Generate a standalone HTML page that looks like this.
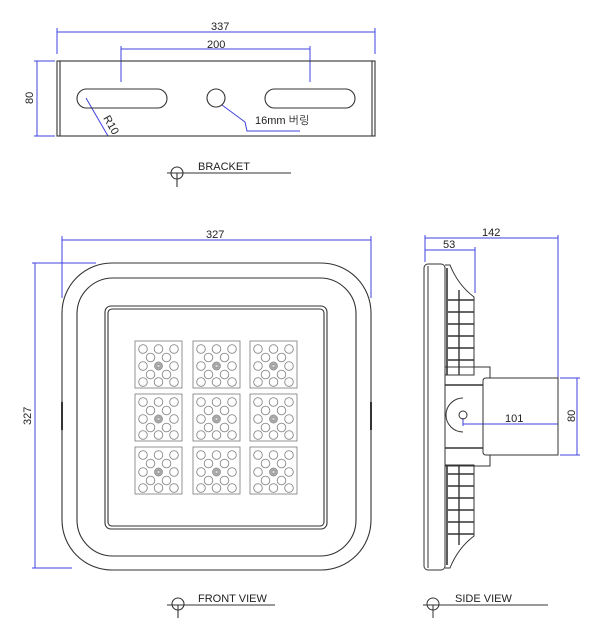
<!DOCTYPE html>
<html><head><meta charset="utf-8"><style>
html,body{margin:0;padding:0;background:#fff;}
svg{display:block;}
text{font-family:"Liberation Sans","NanumGothic",sans-serif;font-size:11px;fill:#222;}
</style></head><body>
<svg width="600" height="640" viewBox="0 0 600 640" xmlns="http://www.w3.org/2000/svg">
<defs>
<g id="mod" fill="none" stroke="#888" stroke-width="0.9">
<rect x="0" y="0" width="47" height="47"/>
<circle cx="8" cy="8" r="4.3"/><circle cx="23.5" cy="8" r="4.3"/><circle cx="39" cy="8" r="4.3"/>
<circle cx="15.5" cy="16.5" r="4.3"/><circle cx="31.5" cy="16.5" r="4.3"/>
<circle cx="8" cy="25" r="4.3"/><circle cx="39" cy="25" r="4.3"/>
<circle cx="23.5" cy="25" r="4" fill="#aaa" stroke="#999"/><circle cx="23.5" cy="25" r="1.5" fill="#ddd" stroke="#888" stroke-width="0.5"/>
<circle cx="15.5" cy="33.5" r="4.3"/><circle cx="31.5" cy="33.5" r="4.3"/>
<circle cx="8" cy="41" r="4.3"/><circle cx="23.5" cy="41" r="4.3"/><circle cx="39" cy="41" r="4.3"/>
</g>
</defs>
<!-- BRACKET -->
<g stroke="#4040e0" stroke-width="1" fill="none">
<line x1="57" y1="32" x2="375" y2="32"/><line x1="57" y1="28" x2="57" y2="54"/><line x1="375" y1="28" x2="375" y2="54"/>
<line x1="121" y1="49" x2="310" y2="49"/><line x1="121" y1="46" x2="121" y2="82"/><line x1="310" y1="46" x2="310" y2="82"/>
<line x1="37" y1="61" x2="37" y2="136"/><line x1="34" y1="61" x2="55" y2="61"/><line x1="34" y1="136" x2="55" y2="136"/>
<line x1="86" y1="98" x2="108" y2="136"/>
<polyline points="222,105 245,122 247,131 300,131"/>
</g>
<g stroke="#333" stroke-width="1.1" fill="none">
<rect x="57" y="61" width="318" height="75"/>
<line x1="60" y1="61" x2="60" y2="136"/><line x1="372" y1="61" x2="372" y2="136"/>
<rect x="77" y="89" width="90" height="19" rx="9.5"/>
<rect x="265" y="89" width="90" height="19" rx="9.5"/>
<circle cx="216" cy="98" r="9"/>
<circle cx="177" cy="173" r="6"/><line x1="167" y1="173" x2="291" y2="173"/><line x1="177" y1="173" x2="177" y2="187"/>
</g>
<text x="211" y="30" font-size="11">337</text>
<text x="207" y="48">200</text>
<text x="0" y="0" transform="translate(33,104) rotate(-90)">80</text>
<text x="0" y="0" transform="translate(103,118) rotate(60)" font-size="10">R10</text>
<text x="255" y="124" font-size="10">16mm 버링</text>
<text x="198" y="170" font-size="12">BRACKET</text>
<!-- FRONT VIEW -->
<g stroke="#4040e0" stroke-width="1" fill="none">
<line x1="62" y1="240" x2="371" y2="240"/><line x1="62" y1="236" x2="62" y2="298"/><line x1="371" y1="236" x2="371" y2="298"/>
<line x1="35" y1="263" x2="35" y2="568"/><line x1="32" y1="263" x2="96" y2="263"/><line x1="32" y1="568" x2="72" y2="568"/>
</g>
<text x="206" y="238">327</text>
<text x="0" y="0" transform="translate(31,425) rotate(-90)">327</text>
<g stroke="#333" stroke-width="1.1" fill="none">
<rect x="62" y="263" width="309" height="307" rx="50"/>
<rect x="77" y="278" width="279" height="278" rx="36"/>
<rect x="105" y="306" width="222" height="223" rx="6"/>
<rect x="108" y="309" width="216" height="217" rx="4"/>
<line x1="62" y1="402" x2="62" y2="430" stroke-width="2"/>
<line x1="371" y1="402" x2="371" y2="430" stroke-width="2"/>
<circle cx="178" cy="604" r="6"/><line x1="167" y1="605" x2="275" y2="605"/><line x1="178" y1="605" x2="178" y2="618"/>
</g>
<use href="#mod" x="135" y="341"/><use href="#mod" x="193" y="341"/><use href="#mod" x="250" y="341"/>
<use href="#mod" x="135" y="394"/><use href="#mod" x="193" y="394"/><use href="#mod" x="250" y="394"/>
<use href="#mod" x="135" y="447"/><use href="#mod" x="193" y="447"/><use href="#mod" x="250" y="447"/>
<text x="198" y="602" font-size="12">FRONT VIEW</text>
<!-- SIDE VIEW -->
<g stroke="#4040e0" stroke-width="1" fill="none">
<line x1="425" y1="238" x2="558" y2="238"/><line x1="425" y1="235" x2="425" y2="262"/><line x1="558" y1="235" x2="558" y2="378"/>
<line x1="425" y1="250" x2="475" y2="250"/><line x1="475" y1="247" x2="475" y2="293"/>
<line x1="577" y1="378" x2="577" y2="455"/><line x1="560" y1="378" x2="580" y2="378"/><line x1="560" y1="455" x2="580" y2="455"/>
<line x1="463" y1="424" x2="558" y2="424"/><line x1="463" y1="418" x2="463" y2="426"/>
</g>
<text x="482" y="236">142</text>
<text x="443" y="248">53</text>
<text x="505" y="422">101</text>
<text x="0" y="0" transform="translate(575,422) rotate(-90)">80</text>
<g stroke="#333" stroke-width="1" fill="none">
<rect x="424" y="264" width="21" height="306" rx="4"/>
<line x1="428" y1="266" x2="428" y2="568"/>
<path d="M445,265 L450,265 Q458,285 474,297 L474,375 L445,375"/>
<path d="M445,568 L450,568 Q458,548 474,536 L474,465 L445,465"/>
<line x1="447" y1="268" x2="447" y2="375" stroke-width="1.6"/><line x1="447" y1="465" x2="447" y2="565" stroke-width="1.6"/>
<line x1="459" y1="290" x2="459" y2="375" stroke-width="1.4"/><line x1="459" y1="465" x2="459" y2="545" stroke-width="1.4"/>
<g stroke-width="1.6">
<line x1="448" y1="300" x2="474" y2="300"/><line x1="448" y1="312" x2="474" y2="312"/><line x1="448" y1="324" x2="474" y2="324"/>
<line x1="448" y1="336" x2="474" y2="336"/><line x1="448" y1="348" x2="474" y2="348"/><line x1="448" y1="360" x2="474" y2="360"/>
<line x1="448" y1="474" x2="474" y2="474"/><line x1="448" y1="486" x2="474" y2="486"/><line x1="448" y1="498" x2="474" y2="498"/>
<line x1="448" y1="510" x2="474" y2="510"/><line x1="448" y1="522" x2="474" y2="522"/><line x1="448" y1="534" x2="474" y2="534"/>
</g>
<path d="M445,367 L490,367 L490,378"/><path d="M445,466 L490,466 L490,455"/>
<line x1="445" y1="385" x2="483" y2="385" stroke-width="1.6"/><line x1="445" y1="448" x2="483" y2="448" stroke-width="1.6"/>
<path d="M463,398 A17,17 0 0 0 463,432"/>
<path d="M486,378 L558,378 L558,455 L486,455 Q483,455 483,452 L483,381 Q483,378 486,378 Z"/>
<circle cx="463" cy="415" r="4"/>
<circle cx="433" cy="604" r="6"/><line x1="423" y1="605" x2="548" y2="605"/><line x1="433" y1="605" x2="433" y2="618"/>
</g>
<text x="455" y="602" font-size="12">SIDE VIEW</text>
</svg>
</body></html>
